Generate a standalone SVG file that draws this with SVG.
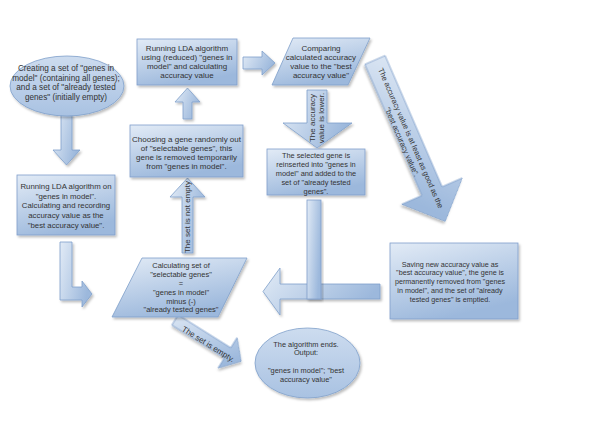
<svg xmlns="http://www.w3.org/2000/svg" width="600" height="424" viewBox="0 0 600 424">
<defs>
<linearGradient id="g" x1="0" y1="0" x2="0.4" y2="1">
<stop offset="0" stop-color="#e2ebf6"/>
<stop offset="1" stop-color="#9cb8dc"/>
</linearGradient>
<linearGradient id="ga" x1="0" y1="0" x2="1" y2="0.4">
<stop offset="0" stop-color="#e2ebf6"/>
<stop offset="1" stop-color="#9cb8dc"/>
</linearGradient>
<linearGradient id="ge" x1="0" y1="0" x2="0" y2="1">
<stop offset="0" stop-color="#cddcef"/>
<stop offset="1" stop-color="#a9c2e2"/>
</linearGradient>
<filter id="sh" x="-20%" y="-20%" width="140%" height="140%">
<feDropShadow dx="1.5" dy="2" stdDeviation="1.3" flood-color="#000" flood-opacity="0.25"/>
</filter>
</defs>
<style>
.s{fill:url(#g);stroke:#7f9fca;stroke-width:0.8;filter:url(#sh)}
.a{fill:url(#ga);stroke:#7f9fca;stroke-width:0.8;filter:url(#sh)}
.e{fill:url(#ge);stroke:#7f9fca;stroke-width:0.8;filter:url(#sh)}
text{font-family:"Liberation Sans",Arial,sans-serif;fill:#333;text-anchor:middle}
</style>
<rect width="600" height="424" fill="#fff"/>

<g id="connectors">
<path class="a" d="M61,114 H72 V150 H80 L66.5,165 L53,150 H61 Z"/>
<path class="a" d="M60,242 H72 V287 H82 V281 L92,294 L82,307 V300 H60 Z"/>
<g>
<path class="a" d="M182,253 V197 H170 L187.5,178 L205,197 H193 V253 Z"/>
<text font-size="8" transform="translate(187.5,217) rotate(-90)" x="0" y="2.8">The set is not empty</text>
</g>
<path class="a" d="M183,119 V102 H175 L187.5,88 L200,102 H192 V119 Z"/>
<path class="a" d="M243,57 H262 V51 L275,63 L262,75 V69 H243 Z"/>
<g>
<path class="a" d="M307,90 H327 V123 H352 L317,148 L283,123 H307 Z"/>
<g transform="translate(317,118) rotate(-90)" font-size="8">
<text x="0" y="-1.7">The accuracy</text>
<text x="0" y="7.3">value is lower.</text>
</g>
</g>
<g transform="translate(375,60) rotate(66.5)">
<path class="a" d="M0,-11 H143 V-33 L176,0 L143,33 V11 H0 Z"/>
<text font-size="7.6" x="86" y="1">The accuracy value is at least as good as the</text>
<text font-size="7.6" x="86" y="10.5">"best accuracy value".</text>
</g>
<path class="a" d="M380,284 V299 H280 V315 L263,291.5 L280,268 V284 Z"/>
<rect class="a" x="307" y="200" width="14" height="99"/>
<g transform="translate(175,320) rotate(32)">
<path class="a" d="M0,-6 H62 V-18 L78,0 L62,18 V6 H0 Z"/>
<text font-size="8" x="41" y="5.5">The set is empty.</text>
</g>
</g>

<g id="n_start">
<ellipse class="e" cx="67" cy="86" rx="57" ry="30"/>
<g font-size="8.2">
<text x="66" y="71">Creating a set of "genes in</text>
<text x="66" y="80.5">model" (containing all genes);</text>
<text x="66" y="90">and a set of "already tested</text>
<text x="66" y="99.5">genes" (initially empty)</text>
</g>
</g>

<g id="n_lda0">
<rect class="s" x="17" y="175" width="98" height="60"/>
<g font-size="7.8">
<text x="66" y="189">Running LDA algorithm on</text>
<text x="66" y="199">"genes in model".</text>
<text x="66" y="208">Calculating and recording</text>
<text x="66" y="218">accuracy value as the</text>
<text x="66" y="228">"best accuracy value".</text>
</g>
</g>

<g id="n_lda">
<rect class="s" x="137" y="39" width="100" height="46"/>
<g font-size="8">
<text x="187" y="50.5">Running LDA algorithm</text>
<text x="187" y="59.5">using (reduced) "genes in</text>
<text x="187" y="69">model" and calculating</text>
<text x="187" y="77.5">accuracy value</text>
</g>
</g>

<g id="n_compare">
<path class="s" d="M293,38 H370 L348,85 H272 Z"/>
<g font-size="8">
<text x="321" y="50.5">Comparing</text>
<text x="321" y="60">calculated accuracy</text>
<text x="321" y="69">value to the "best</text>
<text x="321" y="78">accuracy value"</text>
</g>
</g>

<g id="n_choose">
<rect class="s" x="130" y="125" width="113" height="52"/>
<g font-size="8">
<text x="186.5" y="141.5">Choosing a gene randomly out</text>
<text x="186.5" y="150.5">of "selectable genes", this</text>
<text x="186.5" y="159.5">gene is removed temporarily</text>
<text x="186.5" y="168.5">from "genes in model".</text>
</g>
</g>

<g id="n_selected">
<rect class="s" x="267" y="149" width="98" height="46"/>
<g font-size="7.4">
<text x="316" y="158">The selected gene is</text>
<text x="316" y="167">reinserted into "genes in</text>
<text x="316" y="176">model" and added to the</text>
<text x="316" y="185">set of "already tested</text>
<text x="316" y="194">genes".</text>
</g>
</g>

<g id="n_calc">
<path class="s" d="M142,258 H247 L218,317 H112 Z"/>
<g font-size="7.5">
<text x="181" y="268">Calculating set of</text>
<text x="181" y="277">"selectable genes"</text>
<text x="181" y="285.8">=</text>
<text x="181" y="294.8">"genes in model"</text>
<text x="181" y="303.7">minus (-)</text>
<text x="181" y="312.3">"already tested genes"</text>
</g>
</g>

<g id="n_save">
<rect class="s" x="390" y="243" width="128" height="76"/>
<g font-size="7.2">
<text x="450" y="266.5">Saving new accuracy value as</text>
<text x="450" y="275.3">"best accuracy value", the gene is</text>
<text x="450" y="284">permanently removed from "genes</text>
<text x="450" y="292.8">in model", and the set of "already</text>
<text x="450" y="301.5">tested genes" is emptied.</text>
</g>
</g>

<g id="n_end">
<ellipse class="e" cx="307.5" cy="363" rx="52.5" ry="35"/>
<g font-size="7.4">
<text x="306" y="346.5">The algorithm ends.</text>
<text x="306" y="355">Output:</text>
<text x="306" y="373">"genes in model"; "best</text>
<text x="306" y="381.5">accuracy value"</text>
</g>
</g>
</svg>
